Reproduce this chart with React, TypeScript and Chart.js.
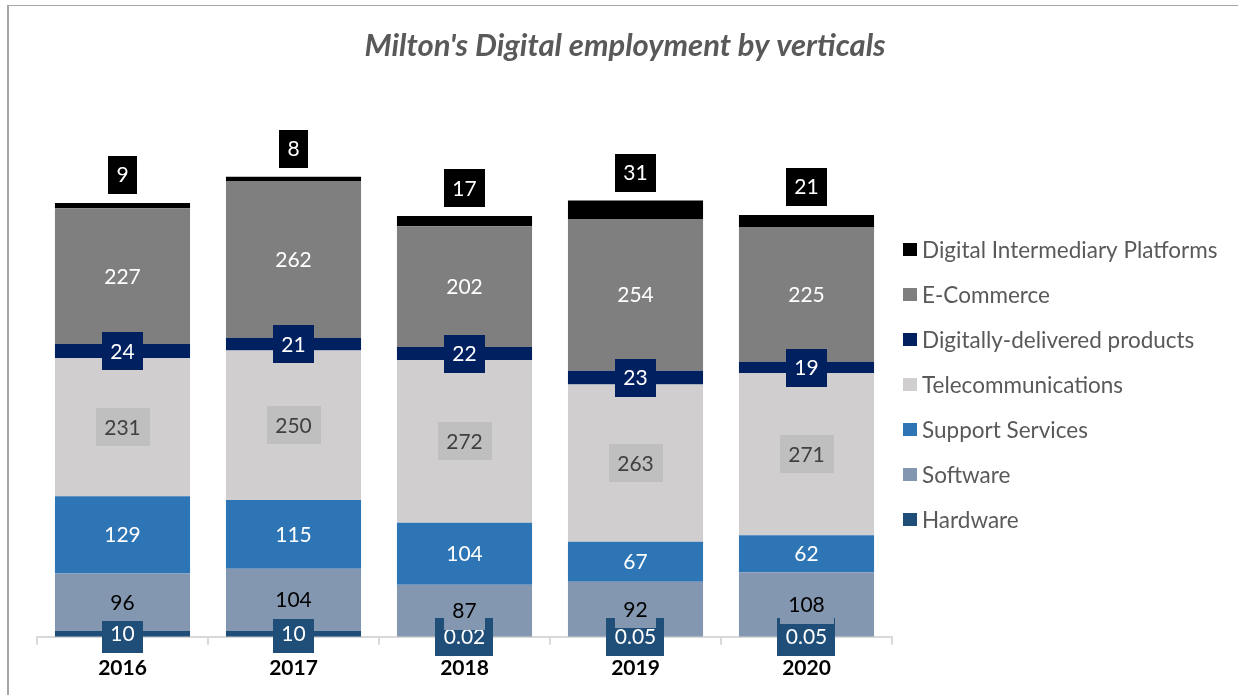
import React, { useEffect, useRef } from "react";
import { Chart, registerables } from "chart.js";

Chart.register(...registerables);

const FONT = "Lato, 'Open Sans', sans-serif";

const categories = ["2016", "2017", "2018", "2019", "2020"];
const seriesNames = [
  "Hardware",
  "Software",
  "Support Services",
  "Telecommunications",
  "Digitally-delivered products",
  "E-Commerce",
  "Digital Intermediary Platforms",
];
const hardware = [10, 10, 0.02, 0.05, 0.05];
const software = [96, 104, 87, 92, 108];
const supportServices = [129, 115, 104, 67, 62];
const telecommunications = [231, 250, 272, 263, 271];
const digitallyDelivered = [24, 21, 22, 23, 19];
const eCommerce = [227, 262, 202, 254, 225];
const digitalIntermediary = [9, 8, 17, 31, 21];
const titleText = "Milton's Digital employment by verticals";

const seriesValues = [
  hardware,
  software,
  supportServices,
  telecommunications,
  digitallyDelivered,
  eCommerce,
  digitalIntermediary,
];
const seriesColors = ["#1f4e79", "#8497b0", "#2e75b6", "#d0cece", "#002060", "#7f7f7f", "#000000"];
const labelStyles = [
  { bg: "#1f4e79", color: "#ffffff", above: false },
  { bg: "#8497b0", color: "#000000", above: false },
  { bg: null, color: "#ffffff", above: false },
  { bg: "#bfbfbf", color: "#404040", above: false },
  { bg: "#002060", color: "#ffffff", above: false },
  { bg: null, color: "#ffffff", above: false },
  { bg: "#000000", color: "#ffffff", above: true },
];

const framePlugin = {
  id: "frame",
  beforeDraw(chart: any) {
    const ctx = chart.ctx;
    ctx.save();
    ctx.fillStyle = "#ffffff";
    ctx.fillRect(0, 0, chart.width, chart.height);
    ctx.fillStyle = "#a6a6a6";
    ctx.fillRect(7, 5, 2, chart.height - 5);
    ctx.fillRect(7, 5, chart.width - 7, 1);
    ctx.restore();
  },
  afterDraw(chart: any) {
    const ctx = chart.ctx;
    ctx.save();
    // title
    ctx.font = `italic bold 31px ${FONT}`;
    ctx.fillStyle = "#595959";
    ctx.textAlign = "center";
    ctx.textBaseline = "alphabetic";
    ctx.fillText(titleText, 625, 56);
    // legend
    ctx.font = `22.5px ${FONT}`;
    ctx.textAlign = "left";
    const items = chart.data.datasets
      .map((d: any) => ({ label: d.label, color: d.backgroundColor }))
      .reverse();
    items.forEach((it: any, k: number) => {
      const cy = 249.5 + k * 45;
      ctx.fillStyle = it.color;
      ctx.fillRect(903, cy - 6.5, 14, 13);
      ctx.fillStyle = "#595959";
      ctx.fillText(it.label, 922, cy + 8);
    });
    ctx.restore();
  },
};

const labelPlugin = {
  id: "segLabels",
  afterDatasetsDraw(chart: any) {
    const ctx = chart.ctx;
    ctx.save();
    ctx.font = `21px ${FONT}`;
    ctx.textAlign = "center";
    ctx.textBaseline = "alphabetic";
    chart.data.datasets.forEach((ds: any, i: number) => {
      const meta = chart.getDatasetMeta(i);
      const st = labelStyles[i];
      meta.data.forEach((el: any, j: number) => {
        const v = ds.data[j];
        const { x, y, base } = el.getProps(["x", "y", "base"], true);
        const cy = st.above ? y - 28 : (y + base) / 2;
        const text = String(v);
        const tw = ctx.measureText(text).width;
        if (st.bg) {
          ctx.fillStyle = st.bg;
          ctx.fillRect(Math.round(x - tw / 2 - 8.5), Math.round(cy - 19), Math.round(tw + 17), 38);
        }
        ctx.fillStyle = st.color;
        ctx.fillText(text, x, cy + 7.5);
      });
    });
    ctx.restore();
  },
};

export default function App() {
  const ref = useRef<HTMLCanvasElement | null>(null);
  useEffect(() => {
    if (!ref.current) return;
    const chart = new Chart(ref.current, {
      type: "bar",
      data: {
        labels: categories,
        datasets: seriesNames.map((name, i) => ({
          label: name,
          data: seriesValues[i],
          backgroundColor: seriesColors[i],
          borderWidth: 0,
          barPercentage: 0.79,
          categoryPercentage: 1,
        })),
      },
      options: {
        animation: false,
        responsive: false,
        maintainAspectRatio: false,
        layout: { padding: { left: 37, right: 346, top: 99, bottom: 3 } },
        plugins: {
          legend: { display: false },
          title: { display: false },
          tooltip: { enabled: false },
        },
        scales: {
          x: {
            stacked: true,
            grid: {
              offset: true,
              drawOnChartArea: false,
              drawTicks: true,
              tickLength: 8,
              color: "#d9d9d9",
              lineWidth: 2,
            },
            border: { display: true, color: "#d9d9d9", width: 2 },
            ticks: {
              color: "#000000",
              padding: 11,
              font: { family: FONT, size: 21, weight: "bold" },
            },
          },
          y: {
            stacked: true,
            display: false,
            min: 0,
            max: 900,
          },
        },
      },
      plugins: [framePlugin, labelPlugin],
    });
    return () => chart.destroy();
  }, []);
  return (
    <div style={{ position: "fixed", left: 0, top: 0, width: 1238, height: 695, background: "#fff" }}>
      <canvas ref={ref} width={1238} height={695} style={{ display: "block", width: 1238, height: 695 }} />
    </div>
  );
}
